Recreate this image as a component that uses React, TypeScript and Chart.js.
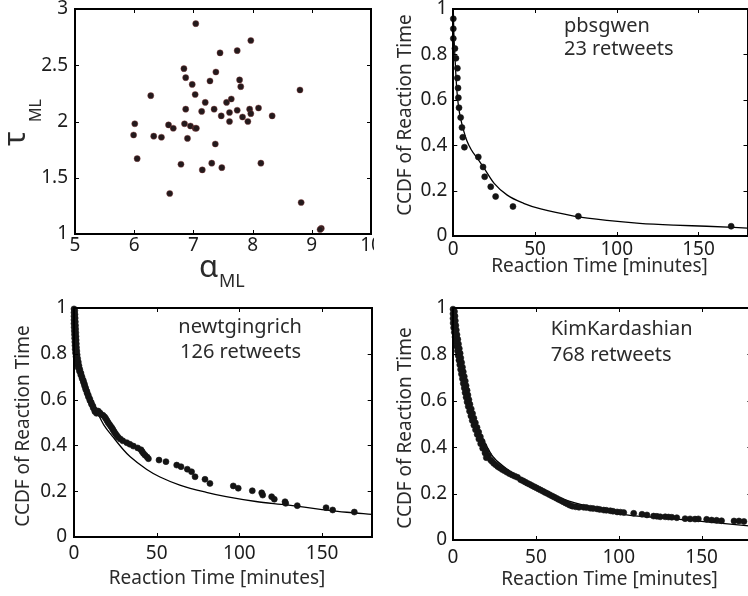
import React, { useEffect, useRef } from "react";
import { Chart, registerables } from "chart.js";

Chart.register(...registerables);

const FONT = '"Noto Sans", "Open Sans", "DejaVu Sans", sans-serif';
const TICK_COLOR = "#1c1c1c";
const TEXT_COLOR = "#2b2b2b";

// ---------------- data ----------------
// Panel 1: alpha_ML vs tau_ML
const alphaML = [7.04, 7.97, 7.74, 7.45, 6.84, 7.38, 6.87, 7.28, 7.78, 6.98, 7.8, 8.8, 6.28, 7.03, 7.2, 7.56, 7.64, 6.87, 7.14, 7.35, 7.74, 7.95, 8.1, 7.61, 7.97, 7.47, 7.83, 8.33, 7.61, 7.92, 6.01, 6.85, 6.58, 6.95, 6.66, 7.03, 7.05, 5.99, 6.33, 6.46, 6.9, 7.37, 6.05, 6.79, 7.31, 8.14, 7.15, 7.48, 6.6, 8.82, 9.16, 9.14];
const tauML = [2.87, 2.72, 2.63, 2.61, 2.47, 2.44, 2.39, 2.36, 2.37, 2.33, 2.31, 2.28, 2.23, 2.24, 2.17, 2.17, 2.2, 2.11, 2.09, 2.11, 2.1, 2.11, 2.12, 2.08, 2.07, 2.05, 2.04, 2.05, 2.0, 2.0, 1.98, 1.98, 1.97, 1.96, 1.94, 1.94, 1.94, 1.88, 1.87, 1.86, 1.85, 1.8, 1.67, 1.62, 1.63, 1.63, 1.57, 1.59, 1.36, 1.28, 1.05, 1.04];
const alphaTicks = [5, 6, 7, 8, 9, 10];
const tauTicks = [1, 1.5, 2, 2.5, 3];

// Shared reaction-time axes
const timeTicks = [0, 50, 100, 150];
const ccdfTicks = [0, 0.2, 0.4, 0.6, 0.8, 1];

// Panel 2: pbsgwen
const pbsTime = [0, 0, 0, 1.0, 1.6, 2.5, 2.5, 2.9, 3.1, 3.5, 4.5, 5.3, 5.8, 6.8, 15.3, 18.2, 19.2, 22.9, 25.9, 36.5, 76.5, 170];
const pbsCcdf = [0.957, 0.913, 0.87, 0.826, 0.783, 0.739, 0.696, 0.652, 0.609, 0.565, 0.522, 0.478, 0.435, 0.391, 0.348, 0.304, 0.261, 0.217, 0.174, 0.13, 0.087, 0.043];
const pbsFitTime = [0, 0.3, 0.8, 1.5, 2.2, 3.2, 4.7, 6.5, 8.3, 11, 15.4, 18.9, 25, 33, 43, 53.5, 73.8, 94, 114, 135, 155, 180];
const pbsFitCcdf = [1.0, 0.9, 0.82, 0.72, 0.64, 0.57, 0.51, 0.46, 0.42, 0.38, 0.335, 0.298, 0.232, 0.18, 0.144, 0.119, 0.088, 0.069, 0.056, 0.048, 0.043, 0.035];

// Panel 3: newtgingrich
const newtTime = [0, 0.5, 0, 0.6, 0, 0.7, 0, 0.8, 0, 0.9, 0.1, 1.0, 0.2, 1.1, 0.3, 1.2, 0.4, 1.3, 0.5, 1.4, 0.6, 1.5, 0.7, 1.7, 0.9, 1.9, 1.2, 2.2, 1.6, 2.6, 2.0, 3.0, 2.5, 3.5, 3.3, 4.2, 4.1, 4.8, 4.9, 5.6, 5.7, 6.3, 6.4, 7.0, 7.1, 7.8, 7.9, 8.6, 8.7, 9.5, 9.6, 10.4, 10.6, 11.4, 11.6, 12.5, 12.6, 13.6, 17.5, 18.6, 19.3, 20.0, 20.6, 21.4, 22.2, 23.0, 23.6, 24.3, 25.0, 25.8, 26.7, 28.0, 29.5, 31.9, 33.8, 35.9, 38.5, 40.5, 41.2, 42.0, 43.0, 44.2, 45.0, 51.4, 55.6, 62.1, 64.7, 68.5, 71.1, 73.2, 79.2, 82.2, 96.3, 99.3, 107.8, 113.5, 114.1, 119.5, 121.1, 127.6, 128.0, 135.0, 152.4, 156.4, 169.5, 14.6, 15.6, 16.2];
const newtCcdf = [0.996, 0.988, 0.98, 0.972, 0.964, 0.956, 0.948, 0.94, 0.932, 0.924, 0.916, 0.908, 0.9, 0.892, 0.884, 0.876, 0.868, 0.86, 0.852, 0.844, 0.836, 0.828, 0.82, 0.812, 0.804, 0.796, 0.788, 0.78, 0.772, 0.764, 0.756, 0.748, 0.74, 0.732, 0.724, 0.716, 0.708, 0.7, 0.692, 0.684, 0.676, 0.668, 0.66, 0.652, 0.644, 0.636, 0.628, 0.62, 0.612, 0.604, 0.596, 0.588, 0.58, 0.572, 0.564, 0.556, 0.548, 0.54, 0.532, 0.524, 0.516, 0.508, 0.5, 0.492, 0.484, 0.476, 0.468, 0.46, 0.452, 0.444, 0.436, 0.428, 0.42, 0.412, 0.405, 0.397, 0.389, 0.381, 0.373, 0.365, 0.357, 0.349, 0.342, 0.336, 0.329, 0.314, 0.307, 0.296, 0.285, 0.263, 0.252, 0.234, 0.223, 0.213, 0.202, 0.193, 0.183, 0.176, 0.165, 0.154, 0.147, 0.137, 0.128, 0.118, 0.109, 0.55, 0.543, 0.536];
const newtFitTime = [0, 0.5, 1.2, 2.2, 3.6, 5.5, 7.7, 10.5, 13.7, 18, 23.8, 30, 34, 44, 52, 64, 80, 92, 110, 128.6, 150, 165, 180];
const newtFitCcdf = [1, 0.9, 0.85, 0.8, 0.75, 0.7, 0.655, 0.6, 0.55, 0.49, 0.435, 0.38, 0.35, 0.295, 0.262, 0.227, 0.195, 0.176, 0.155, 0.14, 0.12, 0.108, 0.099];

// Panel 4: KimKardashian
const kimTime = [0, 0.9, 0, 1.2, 0, 1.4, 0.1, 1.7, 0.4, 2.0, 0.8, 2.4, 1.2, 2.9, 1.7, 3.3, 2.2, 3.8, 2.7, 4.3, 3.1, 4.7, 3.6, 5.2, 4.1, 5.7, 4.6, 6.2, 5.1, 6.8, 5.7, 7.4, 6.2, 7.9, 6.8, 8.5, 7.3, 9.0, 7.9, 9.6, 8.5, 10.2, 9.2, 11.0, 10.0, 11.8, 10.8, 12.6, 11.6, 13.5, 12.6, 14.5, 13.6, 15.5, 14.6, 16.5, 15.6, 17.6, 16.7, 18.7, 17.9, 20.0, 19.3, 21.5, 20.1, 22.7, 23.6, 24.7, 25.9, 27.1, 28.4, 29.7, 31.1, 32.6, 34.1, 35.7, 37.3, 38.9, 40.8, 42.2, 43.5, 44.8, 46.2, 47.5, 48.9, 50.2, 51.6, 52.9, 54.3, 55.6, 57.0, 58.3, 59.7, 61.0, 62.4, 63.7, 65.1, 66.4, 67.8, 69.1, 70.5, 72.0, 74.0, 76.0, 78.8, 80.5, 82.8, 84.5, 86.9, 88.5, 90.9, 92.5, 94.9, 96.5, 99, 101, 103, 109, 114, 117, 121, 123, 125, 128, 130, 132, 135, 140, 143, 146, 148, 153, 156, 159, 162, 169.5, 172.5, 175.5];
const kimCcdf = [0.995, 0.985, 0.975, 0.965, 0.955, 0.945, 0.935, 0.925, 0.915, 0.905, 0.895, 0.885, 0.875, 0.865, 0.855, 0.845, 0.835, 0.825, 0.815, 0.805, 0.795, 0.785, 0.775, 0.765, 0.755, 0.745, 0.735, 0.725, 0.715, 0.705, 0.695, 0.685, 0.675, 0.665, 0.655, 0.645, 0.635, 0.625, 0.615, 0.605, 0.595, 0.585, 0.575, 0.565, 0.555, 0.545, 0.535, 0.525, 0.515, 0.505, 0.495, 0.485, 0.475, 0.465, 0.455, 0.445, 0.435, 0.425, 0.415, 0.405, 0.395, 0.385, 0.375, 0.365, 0.355, 0.345, 0.338, 0.33, 0.323, 0.316, 0.31, 0.304, 0.298, 0.292, 0.286, 0.28, 0.275, 0.27, 0.26, 0.255, 0.25, 0.245, 0.24, 0.235, 0.23, 0.225, 0.22, 0.215, 0.21, 0.205, 0.2, 0.195, 0.19, 0.185, 0.18, 0.175, 0.17, 0.165, 0.16, 0.155, 0.15, 0.146, 0.143, 0.141, 0.141, 0.14, 0.137, 0.136, 0.134, 0.132, 0.129, 0.128, 0.126, 0.124, 0.121, 0.12, 0.118, 0.115, 0.111, 0.108, 0.103, 0.102, 0.1, 0.1, 0.099, 0.098, 0.096, 0.092, 0.091, 0.09, 0.091, 0.089, 0.086, 0.085, 0.083, 0.082, 0.082, 0.08];
const kimFitTime = [0, 1, 2.2, 4.2, 6.6, 9.2, 12.2, 15.3, 18.5, 24, 30, 40, 50, 60, 70, 80, 100, 129, 150, 180];
const kimFitCcdf = [1, 0.93, 0.86, 0.78, 0.69, 0.61, 0.54, 0.48, 0.43, 0.36, 0.32, 0.27, 0.23, 0.195, 0.168, 0.148, 0.113, 0.094, 0.08, 0.06];

// ---------------- drawing helpers ----------------
const PANEL_W = 374;
const PANEL_H = 298;
const CANVAS_W = 420;
const CANVAS_H = 340;
const OY = 20; // canvas starts OY px above the panel
const XH = 40; // fixed x-axis box height

type TextItem = {
  text: string;
  x: number;
  y: number;
  size: number;
  align?: CanvasTextAlign;
  baseline?: CanvasTextBaseline;
  rotate?: boolean;
  color?: string;
};

const decorPlugin = {
  id: "decor",
  afterDraw(chart: any, _args: any, opts: any) {
    const { ctx, chartArea } = chart;
    const { left, top, right, bottom } = chartArea;
    const xs = chart.scales.x;
    const ys = chart.scales.y;
    ctx.save();
    ctx.strokeStyle = "#000";
    ctx.lineWidth = 1;
    const tl = 4;
    ctx.beginPath();
    for (const t of xs.ticks) {
      const p = Math.round(xs.getPixelForValue(t.value)) + 0.5;
      ctx.moveTo(p, bottom);
      ctx.lineTo(p, bottom - tl);
      ctx.moveTo(p, top);
      ctx.lineTo(p, top + tl);
    }
    for (const t of ys.ticks) {
      const p = Math.round(ys.getPixelForValue(t.value)) + 0.5;
      ctx.moveTo(left, p);
      ctx.lineTo(left + tl, p);
      ctx.moveTo(right, p);
      ctx.lineTo(right - tl, p);
    }
    ctx.stroke();
    ctx.lineWidth = 2;
    ctx.strokeRect(Math.round(left), Math.round(top), Math.round(right) - Math.round(left), Math.round(bottom) - Math.round(top));

    const texts: TextItem[] = opts.texts || [];
    for (const t of texts) {
      ctx.save();
      ctx.font = `${t.size}px ${FONT}`;
      ctx.fillStyle = t.color || TEXT_COLOR;
      ctx.textAlign = t.align || "left";
      ctx.textBaseline = t.baseline || "alphabetic";
      ctx.translate(t.x, t.y + OY);
      if (t.rotate) ctx.rotate(-Math.PI / 2);
      ctx.fillText(t.text, 0, 0);
      ctx.restore();
    }
    ctx.restore();
  },
};

type Series = {
  kind: "dots" | "line";
  x: number[];
  y: number[];
  radius?: number;
  fill?: string;
  border?: string;
};

type PanelProps = {
  left: number;
  top: number;
  area: [number, number, number, number]; // L, T, R, B in panel coords
  xRange: [number, number];
  yRange: [number, number];
  xTicks: number[];
  yTicks: number[];
  xTickPad: number;
  yTickPad: number;
  series: Series[];
  texts: TextItem[];
};

function Panel(props: PanelProps) {
  const ref = useRef<HTMLCanvasElement | null>(null);
  useEffect(() => {
    if (!ref.current) return;
    const [L, T, R, B] = props.area;
    const datasets = props.series.map((s) => {
      const data = s.x.map((v, i) => ({ x: v, y: s.y[i] }));
      if (s.kind === "dots") {
        return {
          type: "scatter" as const,
          data,
          showLine: false,
          pointRadius: s.radius ?? 3,
          pointHoverRadius: s.radius ?? 3,
          pointBackgroundColor: s.fill ?? "#141414",
          pointBorderColor: s.border ?? "#141414",
          pointBorderWidth: 0.6,
          clip: false as any,
        };
      }
      return {
        type: "line" as const,
        data,
        showLine: true,
        borderColor: "#000",
        borderWidth: 1.3,
        pointRadius: 0,
        pointHoverRadius: 0,
        fill: false,
        cubicInterpolationMode: "monotone" as const,
      };
    });
    const tickFont = { family: FONT, size: 19, lineHeight: 1.2 };
    const chart = new Chart(ref.current, {
      type: "scatter",
      data: { datasets: datasets as any },
      plugins: [decorPlugin],
      options: {
        animation: false,
        responsive: false,
        maintainAspectRatio: false,
        devicePixelRatio: 1,
        events: [],
        layout: {
          padding: {
            left: 0,
            top: T + OY,
            right: CANVAS_W - R,
            bottom: CANVAS_H - (B + OY) - XH,
          },
        },
        plugins: {
          legend: { display: false },
          tooltip: { enabled: false },
          decor: { texts: props.texts },
        } as any,
        scales: {
          x: {
            type: "linear",
            position: "bottom",
            min: props.xRange[0],
            max: props.xRange[1],
            grid: { display: false, drawTicks: false },
            border: { display: false },
            ticks: {
              font: tickFont,
              color: TICK_COLOR,
              padding: props.xTickPad,
              maxRotation: 0,
              autoSkip: false,
              callback: (v: any) => String(v),
            },
            afterBuildTicks: (s: any) => {
              s.ticks = props.xTicks.map((v) => ({ value: v }));
            },
            afterFit: (s: any) => {
              s.height = XH;
            },
          },
          y: {
            type: "linear",
            position: "left",
            min: props.yRange[0],
            max: props.yRange[1],
            grid: { display: false, drawTicks: false },
            border: { display: false },
            ticks: {
              font: tickFont,
              color: TICK_COLOR,
              padding: props.yTickPad,
              autoSkip: false,
              callback: (v: any) => String(v),
            },
            afterBuildTicks: (s: any) => {
              s.ticks = props.yTicks.map((v) => ({ value: v }));
            },
            afterFit: (s: any) => {
              s.width = L;
            },
          },
        },
      } as any,
    });
    return () => chart.destroy();
  }, []);

  return (
    <div
      style={{
        position: "absolute",
        left: props.left,
        top: props.top,
        width: PANEL_W,
        height: PANEL_H,
        overflow: "hidden",
      }}
    >
      <canvas
        ref={ref}
        width={CANVAS_W}
        height={CANVAS_H}
        style={{ position: "absolute", left: 0, top: -OY, width: CANVAS_W, height: CANVAS_H }}
      />
    </div>
  );
}

const TITLE = 19;
const NOTE = 20;
const xTitle = "Reaction Time [minutes]";
const yTitle = "CCDF of Reaction Time";

export default function App() {
  const scatterDot = { radius: 3.1, fill: "#231a1c", border: "rgba(140,60,60,0.7)" };
  return (
    <div
      style={{
        position: "fixed",
        left: 0,
        top: 0,
        width: 748,
        height: 596,
        overflow: "hidden",
        background: "#fff",
      }}
    >
      <Panel
        left={0}
        top={0}
        area={[75, 9, 371, 234]}
        xRange={[5, 10]}
        yRange={[1, 3]}
        xTicks={alphaTicks}
        yTicks={tauTicks}
        xTickPad={0}
        yTickPad={7}
        series={[{ kind: "dots", x: alphaML, y: tauML, ...scatterDot }]}
        texts={[
          { text: "α", x: 199, y: 277, size: 31 },
          { text: "ML", x: 219, y: 287, size: 18 },
          { text: "τ", x: 25, y: 146, size: 30, rotate: true },
          { text: "ML", x: 41, y: 122, size: 16, rotate: true },
        ]}
      />
      <Panel
        left={374}
        top={0}
        area={[79.3, 9, 373.5, 236]}
        xRange={[0, 180]}
        yRange={[0, 1]}
        xTicks={timeTicks}
        yTicks={ccdfTicks}
        xTickPad={2}
        yTickPad={6}
        series={[
          { kind: "dots", x: pbsTime, y: pbsCcdf },
          { kind: "line", x: pbsFitTime, y: pbsFitCcdf },
        ]}
        texts={[
          { text: xTitle, x: 225.5, y: 267, size: TITLE, align: "center", baseline: "middle" },
          { text: yTitle, x: 31.7, y: 115, size: TITLE, align: "center", baseline: "middle", rotate: true },
          { text: "pbsgwen", x: 190, y: 32, size: NOTE },
          { text: "23 retweets", x: 190, y: 55, size: NOTE },
        ]}
      />
      <Panel
        left={0}
        top={298}
        area={[74, 10, 371.7, 239]}
        xRange={[0, 180]}
        yRange={[0, 1]}
        xTicks={timeTicks}
        yTicks={ccdfTicks}
        xTickPad={5}
        yTickPad={7}
        series={[
          { kind: "dots", x: newtTime, y: newtCcdf },
          { kind: "line", x: newtFitTime, y: newtFitCcdf },
        ]}
        texts={[
          { text: xTitle, x: 217, y: 281, size: TITLE, align: "center", baseline: "middle" },
          { text: yTitle, x: 23.3, y: 128, size: TITLE, align: "center", baseline: "middle", rotate: true },
          { text: "newtgingrich", x: 178.3, y: 34.5, size: NOTE },
          { text: "126 retweets", x: 180, y: 59.5, size: NOTE },
        ]}
      />
      <Panel
        left={374}
        top={298}
        area={[79, 10, 377.4, 242]}
        xRange={[0, 180]}
        yRange={[0, 1]}
        xTicks={timeTicks}
        yTicks={ccdfTicks}
        xTickPad={6}
        yTickPad={6}
        series={[
          { kind: "dots", x: kimTime, y: kimCcdf },
          { kind: "line", x: kimFitTime, y: kimFitCcdf },
        ]}
        texts={[
          { text: xTitle, x: 235.5, y: 282, size: TITLE, align: "center", baseline: "middle" },
          { text: yTitle, x: 31.7, y: 130, size: TITLE, align: "center", baseline: "middle", rotate: true },
          { text: "KimKardashian", x: 176.7, y: 37, size: NOTE },
          { text: "768 retweets", x: 176.7, y: 63, size: NOTE },
        ]}
      />
    </div>
  );
}
